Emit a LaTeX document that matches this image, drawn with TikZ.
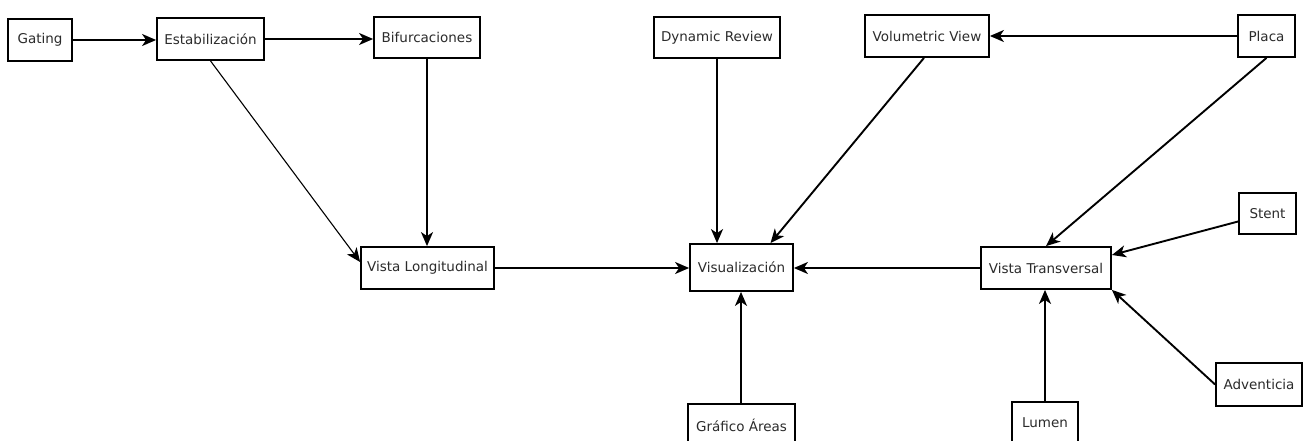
\documentclass[tikz,border=0pt]{standalone}
\usepackage{fontspec}
\setmainfont{DejaVu Sans}
\usetikzlibrary{arrows.meta,calc}
\definecolor{ink}{HTML}{2B2B2B}
\tikzset{
  box/.style={draw=black, line width=1.8pt, fill=white, inner sep=0pt,
    font=\fontsize{13.5}{16}\selectfont, text=ink, anchor=center},
  link/.style={line width=1.9pt, -{Stealth[length=14pt,width=12pt,inset=4pt]}},
  thinlink/.style={line width=1.1pt, -{Stealth[length=14pt,width=12pt,inset=4pt]}}
}
\begin{document}
\begin{tikzpicture}[x=1pt,y=-1pt]
\clip (0,0) rectangle (1306,441);
\fill[white] (0,0) rectangle (1306,441);

% top row
\node[box, minimum width=64pt,  minimum height=42pt] (gating) at (40,40) {Gating};
\node[box, minimum width=107pt, minimum height=42pt] (estab)  at (210.5,39) {Estabilización};
\node[box, minimum width=106pt, minimum height=41pt] (bifur)  at (427,37.5) {Bifurcaciones};
\node[box, minimum width=126pt, minimum height=41pt] (dynrev) at (717,37.5) {Dynamic Review};
\node[box, minimum width=124pt, minimum height=42pt] (volum)  at (927,36) {Volumetric View};
\node[box, minimum width=57pt,  minimum height=42pt] (placa)  at (1266.5,36) {Placa};

% middle row
\node[box, minimum width=133pt, minimum height=42pt] (vlong)  at (427.5,268) {Vista Longitudinal};
\node[box, minimum width=103pt, minimum height=47pt] (visual) at (741.5,267.5) {Visualización};
\node[box, minimum width=130pt, minimum height=42pt] (vtrans) at (1046,268) {Vista Transversal};
\node[box, minimum width=57pt,  minimum height=41pt] (stent)  at (1267.5,213.5) {Stent};

% bottom row
\node[box, minimum width=107pt, minimum height=42pt] (grafico) at (741.5,425) {Gráfico Áreas};
\node[box, minimum width=66pt,  minimum height=42pt] (lumen)   at (1045,423) {Lumen};
\node[box, minimum width=86pt,  minimum height=43pt] (advent)  at (1259,384.5) {Adventicia};

% connectors
\draw[link] (gating.east) -- (gating.east -| estab.west);
\draw[link] (estab.east) -- (estab.east -| bifur.west);
\draw[link] (bifur.south) -- (bifur.south |- vlong.north);
\draw[thinlink] (estab.south) -- ($(vlong.west)+(0,-6)$);
\draw[link] (vlong.east) -- (vlong.east -| visual.west);
\draw[link] (dynrev.south) -- (dynrev.south |- visual.north);
\draw[link] ($(volum.south)+(-3,0)$) -- ($(visual.north)+(29,0)$);
\draw[link] (placa.west) -- (placa.west -| volum.east);
\draw[link] (placa.south) -- (vtrans.north);
\draw[link] ($(stent.west)+(0,8)$) -- ($(vtrans.east)+(0,-13)$);
\draw[link] (advent.west) -- (vtrans.south east);
\draw[link] (lumen.north) -- (lumen.north |- vtrans.south);
\draw[link] ($(grafico.north)+(-0.5,0)$) -- ($(visual.south)+(-0.5,0)$);
\draw[link] (vtrans.west) -- (vtrans.west -| visual.east);
\end{tikzpicture}
\end{document}
